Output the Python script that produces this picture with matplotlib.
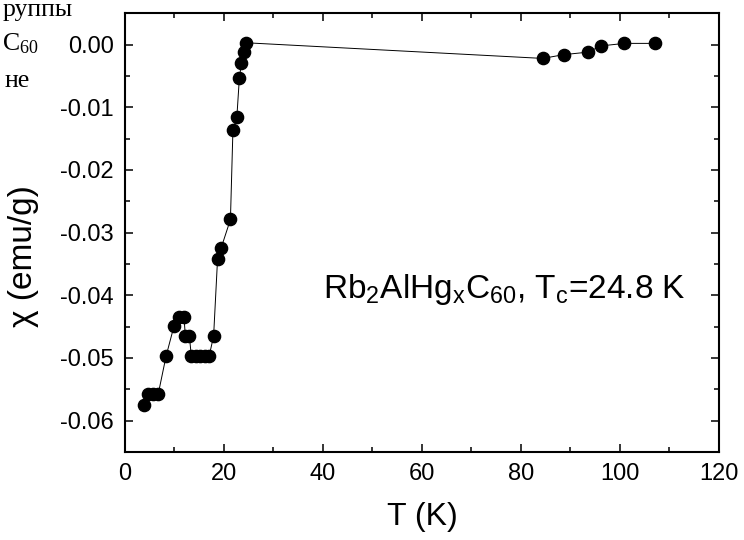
"""Magnetic susceptibility of Rb2AlHgxC60 vs temperature."""
import matplotlib

matplotlib.use("Agg")
import matplotlib.pyplot as plt
from matplotlib.ticker import MultipleLocator

plt.rcParams["font.family"] = ["Liberation Sans", "DejaVu Sans"]
plt.rcParams["mathtext.default"] = "regular"

# temperature (K) and susceptibility (emu/g)
temperature = [3.9, 4.6, 5.6, 6.7, 8.3, 9.9, 10.9, 11.9, 12.2, 13.0,
               13.4, 14.3, 15.2, 16.1, 17.0, 17.9, 18.7, 19.4, 21.3, 21.8,
               22.6, 23.1, 23.5, 24.0, 24.4,
               84.4, 88.6, 93.5, 96.2, 100.9, 107.1]
chi = [-0.0575, -0.0558, -0.0558, -0.0558, -0.0497, -0.0449, -0.0434, -0.0434,
       -0.0465, -0.0465, -0.0497, -0.0497, -0.0497, -0.0497, -0.0497, -0.0465,
       -0.0342, -0.0325, -0.0279, -0.0137, -0.0115, -0.0054, -0.0030, -0.0012,
       0.0003,
       -0.0022, -0.0016, -0.0012, -0.0002, 0.0002, 0.0002]

x_ticks = [0, 20, 40, 60, 80, 100, 120]
y_ticks = [0.00, -0.01, -0.02, -0.03, -0.04, -0.05, -0.06]
y_tick_labels = ["0.00", "-0.01", "-0.02", "-0.03", "-0.04", "-0.05", "-0.06"]

# fragments of the surrounding document text at the top-left corner
doc_lines = ["руппы", "C$_{60}$", "не"]

fig = plt.figure(figsize=(7.44, 5.4), dpi=100)
ax = fig.add_axes([125 / 744, 1 - 452 / 540, 594 / 744, (452 - 13.3) / 540])

ax.plot(temperature, chi, "-", color="black", lw=0.7,
        marker="o", ms=8.8, mfc="black", mec="black")

ax.set_xlim(0, 120)
ax.set_ylim(-0.065, 0.005)
ax.set_xticks(x_ticks)
ax.set_yticks(y_ticks)
ax.set_yticklabels(y_tick_labels)
ax.xaxis.set_minor_locator(MultipleLocator(10))
ax.yaxis.set_minor_locator(MultipleLocator(0.005))

ax.tick_params(which="both", direction="in", top=True, right=True,
               labelsize=17, width=1.1, pad=8)
ax.tick_params(which="major", length=6)
ax.tick_params(which="minor", length=3.5)
for sp in ax.spines.values():
    sp.set_linewidth(1.5)

ax.set_xlabel("T (K)", fontsize=23, labelpad=12)
ax.set_ylabel("χ (emu/g)", fontsize=24)
ax.yaxis.set_label_coords(-0.145, 0.447)

ax.text(40, -0.0404, "Rb$_2$AlHg$_x$C$_{60}$, T$_c$=24.8 K",
        fontsize=24, ha="left", va="baseline")

for txt, x_px, y_px in zip(doc_lines, [73, 39, 30], [16, 50, 87]):
    fig.text(x_px / 744, 1 - y_px / 540, txt, ha="right", va="baseline",
             fontsize=18.5, family=["Liberation Serif", "DejaVu Serif"])

fig.savefig("out.png", dpi=100)
